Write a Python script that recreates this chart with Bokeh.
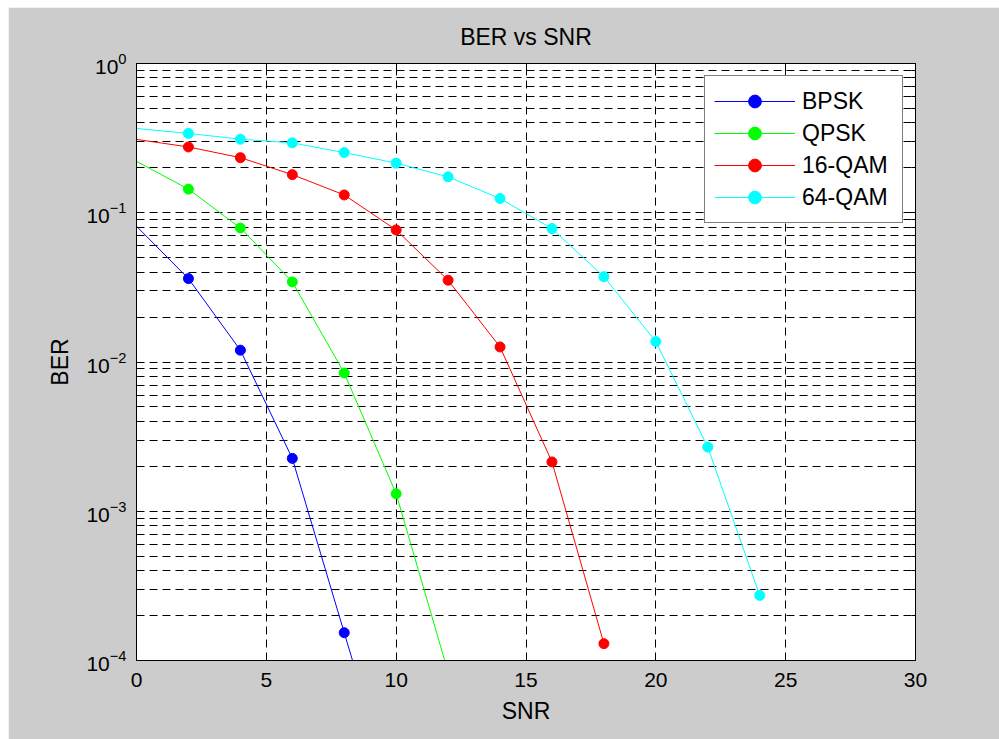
from bokeh.plotting import figure
from bokeh.models import FixedTicker, LinearAxis, LogAxis, Legend, LegendItem, Range1d
from bokeh.embed import file_html
from bokeh.resources import INLINE

# ---- data ----
bpsk_snr = [0, 2, 4, 6, 8, 10]
bpsk_ber = [0.0812, 0.0362, 0.0120, 0.00226, 0.0001535, 0.0000105]

qpsk_snr = [0, 2, 4, 6, 8, 10, 12]
qpsk_ber = [0.221, 0.144, 0.0791, 0.0344, 0.00844, 0.00131, 0.0000836]

qam16_snr = [0, 2, 4, 6, 8, 10, 12, 14, 16, 18]
qam16_ber = [0.310, 0.276, 0.234, 0.180, 0.1316, 0.0767, 0.0353, 0.01261, 0.00214, 0.0001297]

qam64_snr = [0, 2, 4, 6, 8, 10, 12, 14, 16, 18, 20, 22, 24]
qam64_ber = [0.367, 0.340, 0.311, 0.294, 0.253, 0.215, 0.174, 0.1245, 0.0783, 0.0373, 0.0137, 0.00269, 0.000273]

series_names = ["BPSK", "QPSK", "16-QAM", "64-QAM"]
series_colors = ["#0000ff", "#00ff00", "#ff0000", "#00ffff"]

x_ticks = [0, 5, 10, 15, 20, 25, 30]
y_ticks = [1e-4, 1e-3, 1e-2, 1e-1, 1e0]
y_minor_ticks = [
    2e-4, 3e-4, 4e-4, 5e-4, 6e-4, 7e-4, 8e-4, 9e-4,
    2e-3, 3e-3, 4e-3, 5e-3, 6e-3, 7e-3, 8e-3, 9e-3,
    2e-2, 3e-2, 4e-2, 5e-2, 6e-2, 7e-2, 8e-2, 9e-2,
    2e-1, 3e-1, 4e-1, 5e-1, 6e-1, 7e-1, 8e-1, 9e-1,
]

FONT = "Liberation Sans"
GRAY = "#cccccc"
DASH = "8 5"

p = figure(width=991, height=732, y_axis_type="log",
           x_range=Range1d(0, 30), y_range=Range1d(1e-4, 1),
           output_backend="svg", toolbar_location=None,
           title="BER vs SNR", margin=(7, 0, 0, 8))
p.min_border_left = 128
p.min_border_right = 84
p.min_border_top = 56
p.min_border_bottom = 79
p.background_fill_color = "white"
p.border_fill_color = GRAY
p.outline_line_color = "black"
p.outline_line_width = 1

p.title.text_font = FONT
p.title.text_font_size = "23px"
p.title.text_font_style = "normal"
p.title.text_color = "black"
p.title.align = "center"
p.title.standoff = 28

xt = FixedTicker(ticks=x_ticks)
yt = FixedTicker(ticks=y_ticks, minor_ticks=y_minor_ticks)

for ax in p.xaxis:
    ax.ticker = xt
for ax in p.yaxis:
    ax.ticker = yt
p.xgrid.ticker = xt
p.ygrid.ticker = yt

def style_axis(ax, show_labels=True):
    ax.axis_line_color = "black"
    ax.major_tick_line_color = "black"
    ax.major_tick_in = 7
    ax.major_tick_out = 0
    ax.minor_tick_in = 4
    ax.minor_tick_out = 0
    ax.major_label_text_font = FONT
    ax.major_label_text_color = "black"
    ax.axis_label_text_font = FONT
    ax.axis_label_text_font_size = "23px"
    ax.axis_label_text_font_style = "normal"
    ax.axis_label_text_color = "black"
    if show_labels:
        ax.major_label_text_font_size = "21px"
    else:
        ax.major_label_text_font_size = "2px"
        ax.major_label_text_alpha = 0
        ax.major_label_standoff = 0

p.xaxis.axis_label = "SNR"
p.yaxis.axis_label = "BER"
for ax in p.xaxis:
    style_axis(ax)
    ax.minor_tick_line_color = None
    ax.major_label_standoff = 12
    ax.axis_label_standoff = 8
for ax in p.yaxis:
    style_axis(ax)
    ax.minor_tick_line_color = "black"
    ax.major_label_standoff = 10
    ax.axis_label_standoff = 10

top_axis = LinearAxis(ticker=xt)
style_axis(top_axis, show_labels=False)
top_axis.minor_tick_line_color = None
p.add_layout(top_axis, "above")

right_axis = LogAxis(ticker=yt)
style_axis(right_axis, show_labels=False)
right_axis.minor_tick_line_color = "black"
p.add_layout(right_axis, "right")

p.xgrid.grid_line_color = "black"
p.xgrid.grid_line_dash = DASH
p.xgrid.grid_line_width = 1
p.ygrid.grid_line_color = "black"
p.ygrid.grid_line_dash = DASH
p.ygrid.grid_line_width = 1
p.ygrid.minor_grid_line_color = "black"
p.ygrid.minor_grid_line_dash = DASH
p.ygrid.minor_grid_line_width = 1

all_data = [(bpsk_snr, bpsk_ber), (qpsk_snr, qpsk_ber), (qam16_snr, qam16_ber), (qam64_snr, qam64_ber)]
items = []
for (xs, ys), name, color in zip(all_data, series_names, series_colors):
    ln = p.line(xs, ys, line_color=color, line_width=1)
    sc = p.scatter(xs[1:], ys[1:], marker="circle", size=10, fill_color=color, line_color=color)
    items.append(LegendItem(label=name, renderers=[ln, sc]))

legend = Legend(items=items, location="top_right", margin=12, padding=9, spacing=0,
                glyph_width=81, glyph_height=32, label_height=32, label_width=91,
                label_standoff=7, label_text_font=FONT, label_text_font_size="23px",
                label_text_color="black", border_line_color="black", border_line_width=1,
                background_fill_color="white", background_fill_alpha=1.0)
p.add_layout(legend)

open("out.html", "w").write(file_html(p, INLINE))
